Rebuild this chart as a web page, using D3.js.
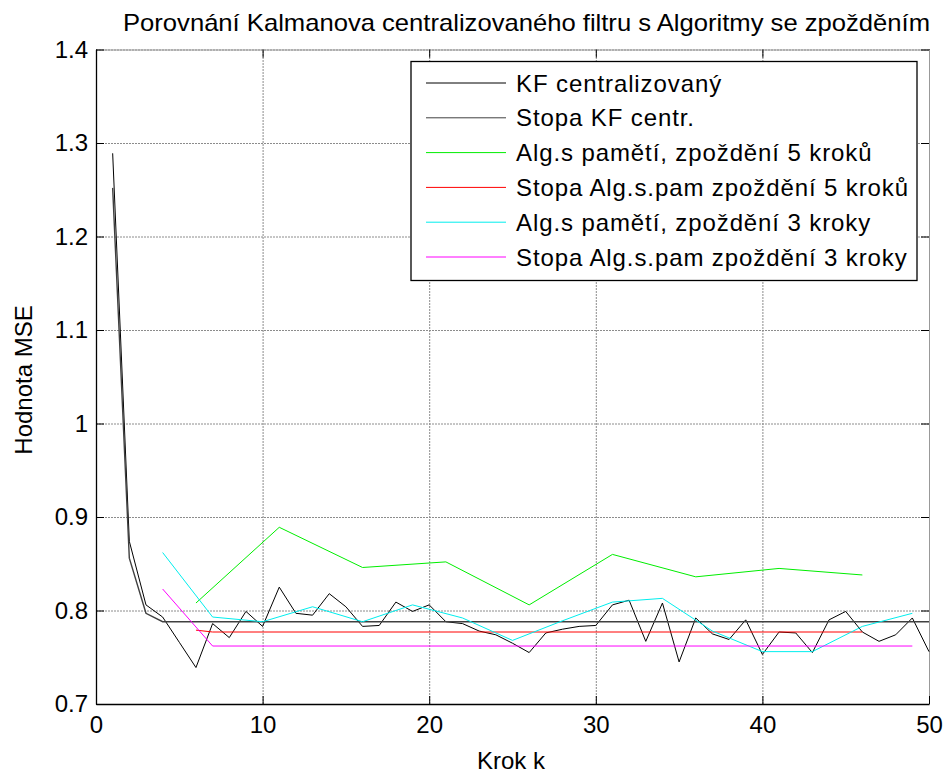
<!DOCTYPE html>
<html>
<head>
<meta charset="utf-8">
<script src="https://cdnjs.cloudflare.com/ajax/libs/d3/7.8.5/d3.min.js"></script>
<style>
  body { margin: 0; background: #fff; }
  text { font-family: "Liberation Sans", Arial, sans-serif; fill: #000; }
</style>
</head>
<body>
<div id="chart"></div>
<script>
// Data
const kfSteps = d3.range(1, 51);
const kfValues = [1.289, 0.874, 0.806, 0.793, 0.766, 0.739, 0.786, 0.771, 0.799, 0.783,
                  0.825, 0.797, 0.795, 0.818, 0.804, 0.783, 0.784, 0.809, 0.799, 0.806,
                  0.788, 0.786, 0.778, 0.774, 0.765, 0.755, 0.776, 0.780, 0.783, 0.784,
                  0.806, 0.811, 0.767, 0.808, 0.745, 0.792, 0.775, 0.769, 0.790, 0.753,
                  0.777, 0.776, 0.755, 0.790, 0.799, 0.777, 0.767, 0.774, 0.792, 0.756];

const kfTraceSteps = [1, 2, 3, 4, 50];
const kfTraceValues = [1.252, 0.856, 0.797, 0.788, 0.788];

const alg5Steps = [6, 11, 16, 21, 26, 31, 36, 41, 46];
const alg5Values = [0.808, 0.889, 0.846, 0.852, 0.806, 0.860, 0.836, 0.845, 0.838];

const alg5TraceSteps = [6, 7, 46];
const alg5TraceValues = [0.779, 0.777, 0.777];

const alg3Steps = [4, 7, 10, 13, 16, 19, 22, 25, 28, 31, 34, 37, 40, 43, 46, 49];
const alg3Values = [0.862, 0.793, 0.788, 0.804, 0.788, 0.806, 0.792, 0.768, 0.789, 0.809,
                    0.813, 0.778, 0.756, 0.756, 0.783, 0.797];

const alg3TraceSteps = [4, 7, 49];
const alg3TraceValues = [0.823, 0.762, 0.762];

const xTicks = [0, 10, 20, 30, 40, 50];
const yTicks = [0.7, 0.8, 0.9, 1.0, 1.1, 1.2, 1.3, 1.4];
const yTickLabels = ["0.7", "0.8", "0.9", "1", "1.1", "1.2", "1.3", "1.4"];

const seriesNames = ["KF centralizovaný", "Stopa KF centr.", "Alg.s pamětí, zpoždění 5 kroků",
                     "Stopa Alg.s.pam zpoždění 5 kroků", "Alg.s pamětí, zpoždění 3 kroky",
                     "Stopa Alg.s.pam zpoždění 3 kroky"];
const seriesColors = ["#000000", "#404040", "#00ee00", "#ff0000", "#00eeee", "#ff00ff"];

const series = [
  [kfSteps, kfValues],
  [kfTraceSteps, kfTraceValues],
  [alg5Steps, alg5Values],
  [alg5TraceSteps, alg5TraceValues],
  [alg3Steps, alg3Values],
  [alg3TraceSteps, alg3TraceValues]
].map(function(s, i) {
  return {
    name: seriesNames[i],
    color: seriesColors[i],
    points: s[0].map((k, j) => ({k: k, v: s[1][j]}))
  };
});

const W = 948, H = 778;
const pLeft = 96, pRight = 929, pTop = 49.5, pBottom = 704;

const svg = d3.select("#chart")
    .append("svg")
    .attr("width", W)
    .attr("height", H);

const x = d3.scaleLinear().domain([0, 50]).range([pLeft, pRight]);
const y = d3.scaleLinear().domain([0.7, 1.4]).range([pBottom, pTop]);

// grid lines
svg.append("g")
    .attr("transform", `translate(0,${pBottom})`)
    .call(d3.axisBottom(x).tickValues(xTicks).tickSize(-(pBottom - pTop)).tickFormat(""))
    .call(g => g.select(".domain").remove())
    .selectAll("line")
    .attr("stroke", "#8c8c8c")
    .attr("stroke-dasharray", "2,1");

svg.append("g")
    .attr("transform", `translate(${pLeft},0)`)
    .call(d3.axisLeft(y).tickValues(yTicks).tickSize(-(pRight - pLeft)).tickFormat(""))
    .call(g => g.select(".domain").remove())
    .selectAll("line")
    .attr("stroke", "#8c8c8c")
    .attr("stroke-dasharray", "2,1");

// top and right border with inward ticks
svg.append("g")
    .attr("transform", `translate(0,${pTop})`)
    .call(d3.axisTop(x).tickValues(xTicks).tickSize(-8).tickSizeOuter(0).tickFormat(""))
    .call(g => g.select(".domain").attr("stroke", "#999"));

svg.append("g")
    .attr("transform", `translate(${pRight},0)`)
    .call(d3.axisRight(y).tickValues(yTicks).tickSize(-8).tickSizeOuter(0).tickFormat(""))
    .call(g => g.select(".domain").attr("stroke", "#999"));

// series lines
const line = d3.line()
    .x(d => x(d.k))
    .y(d => y(d.v));

svg.append("g")
    .selectAll("path")
    .data(series)
    .join("path")
    .attr("d", d => line(d.points))
    .attr("fill", "none")
    .attr("stroke", d => d.color)
    .attr("stroke-width", (d, i) => i === 1 ? 1.4 : 1);

// bottom and left axes
svg.append("g")
    .attr("transform", `translate(0,${pBottom})`)
    .style("font-size", "24px")
    .call(d3.axisBottom(x).tickValues(xTicks).tickSize(-8).tickSizeOuter(0).tickPadding(12))
    .call(g => g.selectAll("text").attr("font-family", null).attr("fill", "#000"))
    .call(g => g.select(".domain").attr("stroke-width", 1.3));

svg.append("g")
    .attr("transform", `translate(${pLeft},0)`)
    .style("font-size", "24px")
    .call(d3.axisLeft(y).tickValues(yTicks).tickSize(-8).tickSizeOuter(0).tickPadding(8)
        .tickFormat((d, i) => yTickLabels[i]))
    .call(g => g.selectAll("text").attr("font-family", null).attr("fill", "#000"))
    .call(g => g.select(".domain").attr("stroke-width", 1.3));

// title and axis labels
svg.append("text")
    .attr("x", 123)
    .attr("y", 31)
    .attr("textLength", 807)
    .attr("lengthAdjust", "spacingAndGlyphs")
    .style("font-size", "24px")
    .text("Porovnání Kalmanova centralizovaného filtru s Algoritmy se zpožděním");

svg.append("text")
    .attr("x", 511)
    .attr("y", 769)
    .attr("text-anchor", "middle")
    .style("font-size", "24px")
    .text("Krok k");

svg.append("text")
    .attr("transform", "rotate(-90)")
    .attr("x", -380)
    .attr("y", 32)
    .attr("text-anchor", "middle")
    .style("font-size", "24px")
    .text("Hodnota MSE");

// legend
const legend = svg.append("g");

legend.append("rect")
    .attr("x", 411)
    .attr("y", 61.5)
    .attr("width", 506)
    .attr("height", 219)
    .attr("fill", "#fff")
    .attr("stroke", "#000")
    .attr("stroke-width", 1.3);

const rows = legend.selectAll("g.row")
    .data(series)
    .join("g")
    .attr("class", "row")
    .attr("transform", (d, i) => `translate(0,${83 + i * 34.8})`);

rows.append("line")
    .attr("x1", 426)
    .attr("x2", 506)
    .attr("stroke", d => d.color)
    .attr("stroke-width", 1);

rows.append("text")
    .attr("x", 516)
    .attr("dy", "0.36em")
    .style("font-size", "24px")
    .style("letter-spacing", "0.9px")
    .text(d => d.name);
</script>
</body>
</html>
